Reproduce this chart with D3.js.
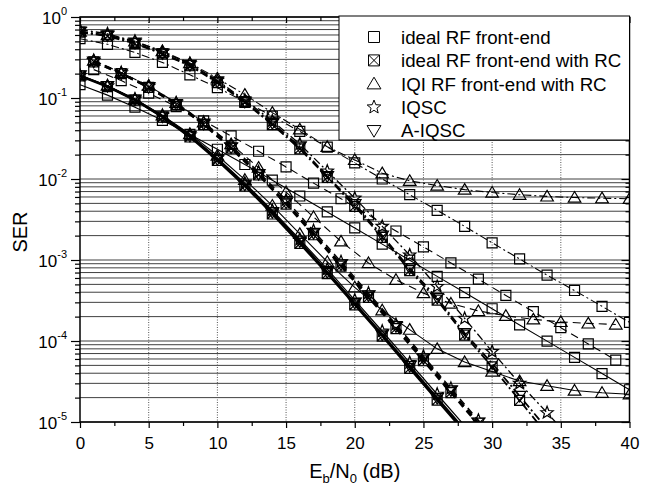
<!DOCTYPE html>
<html>
<head>
<meta charset="utf-8">
<script src="https://cdn.jsdelivr.net/npm/d3@7"></script>
<style>
  body { margin: 0; background: #fff; }
  svg { font-family: "Liberation Sans", Arial, sans-serif; }
</style>
</head>
<body>
<div id="chart"></div>
<script>
// SNR points (dB): BPSK and 16QAM markers on even values, QPSK on odd values
const xEven = [0, 2, 4, 6, 8, 10, 12, 14, 16, 18, 20, 22, 24, 26, 28, 30, 32, 34, 36, 38, 40];
const xOdd = [1, 3, 5, 7, 9, 11, 13, 15, 17, 19, 21, 23, 25, 27, 29, 31, 33, 35, 37, 39];

// lowest group (solid lines)
const bpskIdeal = [0.146, 0.1085, 0.0771, 0.053, 0.0355, 0.0233, 0.0151, 0.00967, 0.00617, 0.00392, 0.00249, 0.00157, 0.000994, 0.000628, 0.000396, 0.00025, 0.000158, 0.0000996, 0.0000628, 0.0000396, 0.000025];
const bpskRC = [0.187, 0.138, 0.094, 0.058, 0.033, 0.017, 0.0082, 0.0037, 0.0016, 0.00068, 0.00028, 0.000115, 0.000046, 0.0000186, 0.0000075];
const bpskIQI = [0.19, 0.142, 0.097, 0.061, 0.036, 0.0195, 0.0098, 0.0047, 0.0021, 0.00095, 0.00046, 0.00024, 0.000138, 0.00008, 0.000055, 0.000042, 0.000032, 0.000028, 0.0000245, 0.000023, 0.000022];
const bpskIQSC = [0.19, 0.141, 0.097, 0.061, 0.035, 0.0182, 0.0089, 0.0041, 0.0018, 0.00077, 0.00032, 0.000132, 0.000054, 0.000022, 0.000009];
const bpskAIQSC = [0.19, 0.14, 0.095, 0.059, 0.034, 0.0175, 0.0085, 0.0039, 0.0017, 0.00071, 0.000295, 0.00012, 0.000049, 0.0000198, 0.000008];

// middle group (dashed lines)
const qpskIdeal = [0.224, 0.164, 0.115, 0.0784, 0.0521, 0.034, 0.022, 0.0141, 0.0089, 0.0057, 0.0036, 0.00228, 0.00145, 0.00092, 0.00058, 0.000365, 0.00023, 0.000146, 0.000092, 0.000058];
const qpskRC = [0.28, 0.2, 0.135, 0.083, 0.047, 0.024, 0.0112, 0.0049, 0.00205, 0.00084, 0.000345, 0.000142, 0.000057, 0.000023, 0.0000093];
const qpskIQI = [0.29, 0.205, 0.142, 0.087, 0.05, 0.027, 0.0138, 0.0069, 0.0034, 0.0017, 0.00092, 0.00057, 0.00039, 0.00029, 0.000235, 0.000205, 0.000185, 0.000172, 0.000165, 0.00016];
const qpskIQSC = [0.29, 0.205, 0.14, 0.087, 0.05, 0.026, 0.0122, 0.0055, 0.0023, 0.00095, 0.00039, 0.00016, 0.000065, 0.000026, 0.0000105, 0.0000043];
const qpskAIQSC = [0.28, 0.2, 0.136, 0.084, 0.048, 0.0245, 0.0115, 0.0051, 0.00215, 0.00088, 0.000365, 0.000152, 0.000061, 0.0000245, 0.0000098];

// highest group (dash-dot lines)
const qamIdeal = [0.54, 0.46, 0.365, 0.275, 0.193, 0.134, 0.09, 0.0595, 0.0387, 0.0248, 0.0158, 0.01, 0.0064, 0.0041, 0.0026, 0.00163, 0.00103, 0.00065, 0.00042, 0.000268, 0.00017];
const qamRC = [0.65, 0.58, 0.47, 0.35, 0.25, 0.155, 0.088, 0.047, 0.0235, 0.0105, 0.0046, 0.0019, 0.00074, 0.00032, 0.000118, 0.000048, 0.0000185, 0.000007];
const qamIQI = [0.66, 0.6, 0.5, 0.38, 0.27, 0.175, 0.11, 0.066, 0.041, 0.025, 0.0172, 0.0118, 0.0095, 0.0083, 0.0074, 0.0068, 0.0064, 0.0061, 0.0059, 0.0058, 0.0057];
const qamIQSC = [0.7, 0.62, 0.5, 0.37, 0.265, 0.165, 0.094, 0.052, 0.027, 0.0125, 0.0058, 0.0026, 0.00115, 0.00047, 0.00019, 0.000074, 0.00003, 0.000013, 0.0000055];
const qamAIQSC = [0.66, 0.59, 0.48, 0.355, 0.255, 0.16, 0.09, 0.049, 0.025, 0.0108, 0.0049, 0.002, 0.00079, 0.00034, 0.000125, 0.000053, 0.000021, 0.0000082];

const legendLabels = [
    "ideal RF front-end",
    "ideal RF front-end with RC",
    "IQI RF front-end with RC",
    "IQSC",
    "A-IQSC"
];
const legendMarkers = ["square", "xsquare", "triUp", "star", "triDown"];

const xTicks = [0, 5, 10, 15, 20, 25, 30, 35, 40];
const xMinorTicks = [2.5, 7.5, 12.5, 17.5, 22.5, 27.5, 32.5, 37.5];
const yTicks = [1, 1e-1, 1e-2, 1e-3, 1e-4, 1e-5];
const yExponents = ["0", "-1", "-2", "-3", "-4", "-5"];

const width = 646;
const height = 487;
const pL = 80, pR = 629.5, pT = 17, pB = 422;

const svg = d3.select("#chart")
    .append("svg")
    .attr("width", width)
    .attr("height", height);

const x = d3.scaleLinear().domain([0, 40]).range([pL, pR]);
const y = d3.scaleLog().domain([1e-5, 1]).range([pB, pT]);

// minor log values for grid and small ticks
const yMinor = [];
[1e-5, 1e-4, 1e-3, 1e-2, 1e-1].forEach(function(dec) {
    for (let m = 2; m <= 9; m++) {
        yMinor.push(m * dec);
    }
});

// horizontal grid
svg.append("g")
    .selectAll("line")
    .data(yMinor.concat(yTicks))
    .enter()
    .append("line")
    .attr("x1", pL)
    .attr("x2", pR)
    .attr("y1", d => y(d))
    .attr("y2", d => y(d))
    .attr("stroke", "#2a2a2a")
    .attr("stroke-width", 0.9);

// vertical grid
svg.append("g")
    .selectAll("line")
    .data(xTicks.slice(1, -1))
    .enter()
    .append("line")
    .attr("x1", d => x(d))
    .attr("x2", d => x(d))
    .attr("y1", pT)
    .attr("y2", pB)
    .attr("stroke", "#555")
    .attr("stroke-width", 1)
    .attr("stroke-dasharray", "1,1.5");

// marker shapes
function starPath(ro, ri) {
    let p = "";
    for (let i = 0; i < 10; i++) {
        const r = i % 2 === 0 ? ro : ri;
        const a = -Math.PI / 2 + i * Math.PI / 5;
        p += (i === 0 ? "M" : "L") + (r * Math.cos(a)).toFixed(2) + "," + (r * Math.sin(a)).toFixed(2);
    }
    return p + "Z";
}

const markerPaths = {
    square: "M-5,-5H5V5H-5Z",
    xsquare: "M-5,-5H5V5H-5ZM-5,-5L5,5M5,-5L-5,5",
    triUp: "M0,-6L6.3,4.6L-6.3,4.6Z",
    triDown: "M0,6L6.3,-4.6L-6.3,-4.6Z",
    star: starPath(6.5, 2.8)
};

const dashed = "8,5";
const dashDot = "8,3,2,3";

const series = [
    { xs: xEven, ys: qamIdeal, marker: "square", dash: dashDot, w: 1.1 },
    { xs: xEven, ys: qamIQI, marker: "triUp", dash: dashDot, w: 1.1 },
    { xs: xEven, ys: qamRC, marker: "xsquare", dash: dashDot, w: 1.8 },
    { xs: xEven, ys: qamIQSC, marker: "star", dash: dashDot, w: 1.3 },
    { xs: xEven, ys: qamAIQSC, marker: "triDown", dash: dashDot, w: 1.8 },
    { xs: xOdd, ys: qpskIdeal, marker: "square", dash: dashed, w: 1.1 },
    { xs: xOdd, ys: qpskIQI, marker: "triUp", dash: dashed, w: 1.1 },
    { xs: xOdd, ys: qpskRC, marker: "xsquare", dash: "7,5", w: 2.2 },
    { xs: xOdd, ys: qpskIQSC, marker: "star", dash: "7,5", w: 1.4 },
    { xs: xOdd, ys: qpskAIQSC, marker: "triDown", dash: "7,5", w: 2.2 },
    { xs: xEven, ys: bpskIdeal, marker: "square", dash: null, w: 1.1 },
    { xs: xEven, ys: bpskIQI, marker: "triUp", dash: null, w: 1.1 },
    { xs: xEven, ys: bpskRC, marker: "xsquare", dash: null, w: 2.2 },
    { xs: xEven, ys: bpskIQSC, marker: "star", dash: null, w: 1.2 },
    { xs: xEven, ys: bpskAIQSC, marker: "triDown", dash: null, w: 2.2 }
];

svg.append("clipPath")
    .attr("id", "plotClip")
    .append("rect")
    .attr("x", pL)
    .attr("y", pT)
    .attr("width", pR - pL)
    .attr("height", pB - pT);

const line = d3.line()
    .x(d => x(d[0]))
    .y(d => y(d[1]));

const plot = svg.append("g").attr("clip-path", "url(#plotClip)");

series.forEach(function(s) {
    const pts = s.ys.map(function(v, i) { return [s.xs[i], v]; });

    plot.append("path")
        .datum(pts)
        .attr("d", line)
        .attr("fill", "none")
        .attr("stroke", "#000")
        .attr("stroke-width", s.w)
        .attr("stroke-dasharray", s.dash);

    plot.selectAll(null)
        .data(pts.filter(d => d[1] >= 9.5e-6))
        .enter()
        .append("path")
        .attr("d", markerPaths[s.marker])
        .attr("transform", d => "translate(" + x(d[0]) + "," + y(d[1]) + ")")
        .attr("fill", "none")
        .attr("stroke", "#000")
        .attr("stroke-width", 1.2);
});

// axes
function clean(g) {
    g.select(".domain").remove();
    g.selectAll(".tick line").attr("stroke", "#000").attr("stroke-width", 1.2);
}

svg.append("g")
    .attr("transform", "translate(0," + pB + ")")
    .call(d3.axisBottom(x).tickValues(xTicks).tickSize(6).tickPadding(9).tickFormat(d3.format("d")))
    .call(clean)
    .selectAll("text")
    .attr("font-size", 17)
    .attr("font-family", "'Liberation Sans', Arial, sans-serif")
    .attr("fill", "#000");

svg.append("g")
    .attr("transform", "translate(0," + pB + ")")
    .call(d3.axisBottom(x).tickValues(xMinorTicks).tickSize(4).tickFormat(""))
    .call(clean);

svg.append("g")
    .attr("transform", "translate(0," + pT + ")")
    .call(d3.axisTop(x).tickValues(xTicks).tickSize(-6).tickFormat(""))
    .call(clean);

svg.append("g")
    .attr("transform", "translate(0," + pT + ")")
    .call(d3.axisTop(x).tickValues(xMinorTicks).tickSize(-4).tickFormat(""))
    .call(clean);

const yAxis = svg.append("g")
    .attr("transform", "translate(" + pL + ",0)")
    .call(d3.axisLeft(y).tickValues(yTicks).tickSize(9).tickPadding(4).tickFormat(""))
    .call(clean);

yAxis.selectAll(".tick text")
    .attr("font-size", 17)
    .attr("font-family", "'Liberation Sans', Arial, sans-serif")
    .attr("fill", "#000")
    .attr("dy", 6)
    .each(function(d, i) {
        const t = d3.select(this);
        t.append("tspan").text("10");
        t.append("tspan").attr("font-size", 11).attr("dy", -9).text(yExponents[i]);
    });

svg.append("g")
    .attr("transform", "translate(" + pL + ",0)")
    .call(d3.axisLeft(y).tickValues(yMinor).tickSize(5).tickFormat(""))
    .call(clean);

svg.append("g")
    .attr("transform", "translate(" + pR + ",0)")
    .call(d3.axisRight(y).tickValues(yTicks).tickSize(-8).tickFormat(""))
    .call(clean);

svg.append("g")
    .attr("transform", "translate(" + pR + ",0)")
    .call(d3.axisRight(y).tickValues(yMinor).tickSize(-4).tickFormat(""))
    .call(clean);

// frame
svg.append("rect")
    .attr("x", pL)
    .attr("y", pT)
    .attr("width", pR - pL)
    .attr("height", pB - pT)
    .attr("fill", "none")
    .attr("stroke", "#000")
    .attr("stroke-width", 1.5);

// axis titles
svg.append("text")
    .attr("transform", "translate(27,232) rotate(-90)")
    .attr("text-anchor", "middle")
    .attr("font-size", 20)
    .text("SER");

const xt = svg.append("text")
    .attr("x", (pL + pR) / 2)
    .attr("y", 478)
    .attr("text-anchor", "middle")
    .attr("font-size", 20);
xt.append("tspan").text("E");
xt.append("tspan").attr("font-size", 13).attr("dy", 5).text("b");
xt.append("tspan").attr("dy", -5).text("/N");
xt.append("tspan").attr("font-size", 13).attr("dy", 5).text("0");
xt.append("tspan").attr("dy", -5).text(" (dB)");

// legend
const legend = svg.append("g");

legend.append("rect")
    .attr("x", 339)
    .attr("y", 16)
    .attr("width", pR - 339)
    .attr("height", 124)
    .attr("fill", "#fff")
    .attr("stroke", "#000")
    .attr("stroke-width", 1);

legendLabels.forEach(function(label, i) {
    const ly = 37 + i * 23.4;

    legend.append("path")
        .attr("d", markerPaths[legendMarkers[i]])
        .attr("transform", "translate(374," + ly + ") scale(1.1)")
        .attr("fill", "none")
        .attr("stroke", "#000")
        .attr("stroke-width", 0.9);

    legend.append("text")
        .attr("x", 401)
        .attr("y", ly)
        .attr("dy", "0.36em")
        .attr("font-size", 18.7)
        .text(label);
});
</script>
</body>
</html>
